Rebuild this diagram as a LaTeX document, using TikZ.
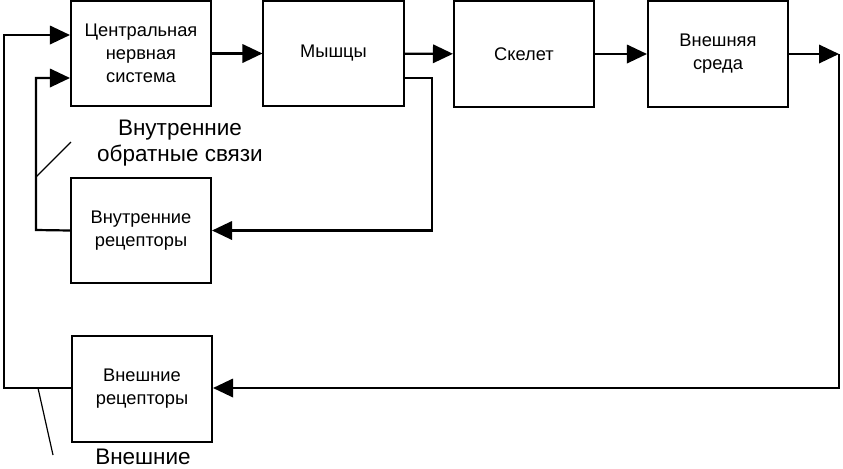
\documentclass[tikz,border=0pt]{standalone}
\usepackage{fontspec}
\setmainfont{Liberation Sans}
\usetikzlibrary{arrows.meta}
\tikzset{
	blok/.style={draw, line width=0.5mm, minimum width=3.5cm, minimum height=2.625cm, inner sep=0pt, align=center, font=\fontsize{13}{16.5}\selectfont},
	strelka/.style={line width=0.55mm, -{Triangle[length=5mm, width=4.6mm]}},
	liniya/.style={line width=0.55mm}
}

\begin{document}
\begin{tikzpicture}[x=0.025cm, y=-0.025cm]
			%%%%% START %%%%%
			\useasboundingbox (0, 0) rectangle (843, 468);
			
			\node[blok] (cns) at (141, 53.5) {Центральная\\нервная\\система};
			\node[blok] (mus) at (333.5, 53.5) {Мышцы};
			\node[blok] (skel) at (524, 54) {Скелет};
			\node[blok] (sreda) at (718, 54) {Внешняя\\среда};
			\node[blok] (vnutr) at (141, 230.5) {Внутренние\\рецепторы};
			\node[blok] (vnesh) at (142, 389) {Внешние\\рецепторы};
			
			\coordinate (pravo) at (839, 388);
			\coordinate (myshv) at (432, 78);
			\coordinate (levo) at (36, 230);
			\coordinate (kraj) at (4, 388);
			\coordinate (verh) at (4, 35);
			
			\draw[strelka] (cns) -- (mus);
			\draw[strelka] (mus) -- (skel);
			\draw[strelka] (skel) -- (sreda);
			
			\draw[strelka] (sreda.east) -- (sreda.east -| pravo);
			\draw[strelka] (sreda.east -| pravo) -- (pravo) -- (vnesh.east |- pravo);
			
			\draw[strelka] (mus.east |- myshv) -- (myshv) -- (myshv |- vnutr.east) -- (vnutr.east);
			\draw[strelka] (vnutr.west) -- (levo) -- (levo |- myshv) -- (cns.west |- myshv);
			\draw[strelka] (vnesh.west |- kraj) -- (kraj) -- (verh) -- (cns.west |- verh);
			
			\node[align=center, font=\fontsize{16}{19}\selectfont] (obrat) at (180, 143) {Внутренние\\обратные связи};
			\draw[line width=0.3mm] (36, 177) -- (71, 142);
			
			\node[anchor=base, font=\fontsize{16}{19}\selectfont] (vneshtxt) at (143, 464) {Внешние};
			\draw[line width=0.3mm] (38, 388) -- (53, 455);
			%%%%% END %%%%%
\end{tikzpicture}
\end{document}
